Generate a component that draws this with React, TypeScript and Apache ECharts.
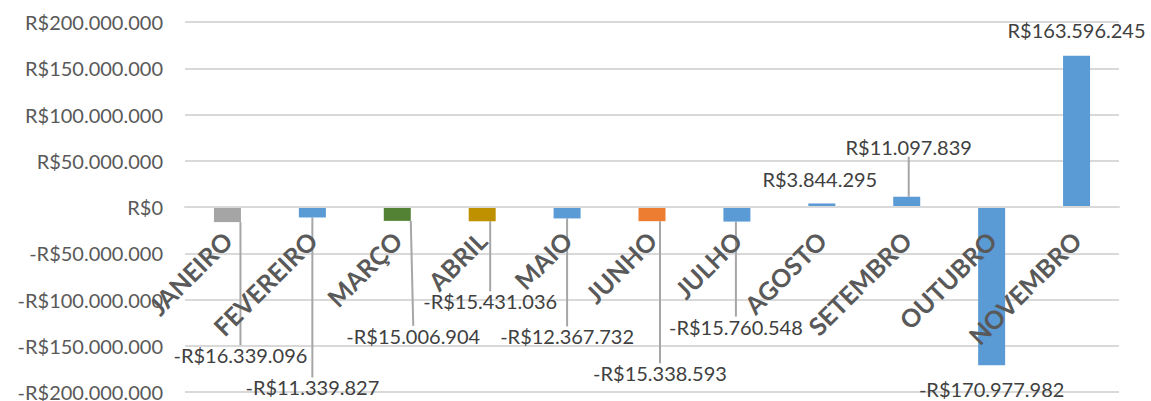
import React, { useEffect, useRef } from "react";
import * as echarts from "echarts";

const categories = ["JANEIRO", "FEVEREIRO", "MARÇO", "ABRIL", "MAIO", "JUNHO", "JULHO", "AGOSTO", "SETEMBRO", "OUTUBRO", "NOVEMBRO"];
const values = [-16339096, -11339827, -15006904, -15431036, -12367732, -15338593, -15760548, 3844295, 11097839, -170977982, 163596245];
const barColors = ["#A5A5A5", "#5B9BD5", "#548235", "#BF9000", "#5B9BD5", "#ED7D31", "#5B9BD5", "#5B9BD5", "#5B9BD5", "#5B9BD5", "#5B9BD5"];
const yTicks = { min: -200000000, max: 200000000, interval: 50000000 };

// label offsets (px) from the bar's far end — styling only
const labelDx = [13, 0, 16, 8, 0, 8, -1, -2, 2, 0, 0];
const labelDy = [133, 170, 115, 80, 118, 152, 105, -24, -50, 24, -26];
const showLeader = [true, true, true, true, true, true, true, false, true, false, false];

function brl(v: number): string {
  const s = Math.abs(Math.round(v)).toString().replace(/\B(?=(\d{3})+(?!\d))/g, ".");
  return (v < 0 ? "-" : "") + "R$" + s;
}

export default function App() {
  const ref = useRef<HTMLDivElement>(null);
  useEffect(() => {
    document.body.style.margin = "0";
    const chart = echarts.init(ref.current!, null, { renderer: "svg" });
    const font = "Lato, 'Open Sans', sans-serif";
    chart.setOption({
      animation: false,
      backgroundColor: "#ffffff",
      grid: { left: 185, right: 32, top: 22, bottom: 9, containLabel: false, outerBoundsMode: "none" },
      xAxis: {
        type: "category",
        data: categories,
        z: 10,
        axisLine: { show: true, onZero: true, lineStyle: { color: "#D9D9D9", width: 2 } },
        axisTick: { show: false },
        splitLine: { show: false },
        axisLabel: {
          interval: 0,
          rotate: 45,
          margin: -156,
          color: "#595959",
          fontFamily: font,
          fontWeight: "bold",
          fontSize: 25,
          hideOverlap: false,
        },
      },
      yAxis: {
        type: "value",
        min: yTicks.min,
        max: yTicks.max,
        interval: yTicks.interval,
        axisLine: { show: false },
        axisTick: { show: false },
        splitLine: { show: true, lineStyle: { color: "#D9D9D9", width: 2 } },
        axisLabel: {
          margin: 22,
          color: "#595959",
          fontFamily: font,
          fontSize: 20,
          formatter: (v: number) => brl(v),
        },
      },
      series: [
        {
          type: "bar",
          barWidth: 27,
          data: values.map((v, i) => ({
            value: v,
            itemStyle: { color: barColors[i] },
            labelLine: { show: showLeader[i] },
          })),
          label: {
            show: true,
            position: "outside",
            color: "#404040",
            fontFamily: font,
            fontSize: 20,
            formatter: (p: any) => brl(p.value),
          },
          labelLine: {
            show: true,
            lineStyle: { color: "#A6A6A6", width: 2 },
          },
          labelLayout: (p: any) => {
            const i = p.dataIndex;
            const r = p.rect;
            const cx = r.x + r.width / 2;
            const end = values[i] < 0 ? r.y + r.height : r.y;
            return {
              x: cx + labelDx[i],
              y: end + labelDy[i],
              align: "center",
              verticalAlign: "middle",
              hideOverlap: false,
            };
          },
        },
      ],
    });
    return () => chart.dispose();
  }, []);
  return <div ref={ref} style={{ width: 1151, height: 401 }} />;
}
